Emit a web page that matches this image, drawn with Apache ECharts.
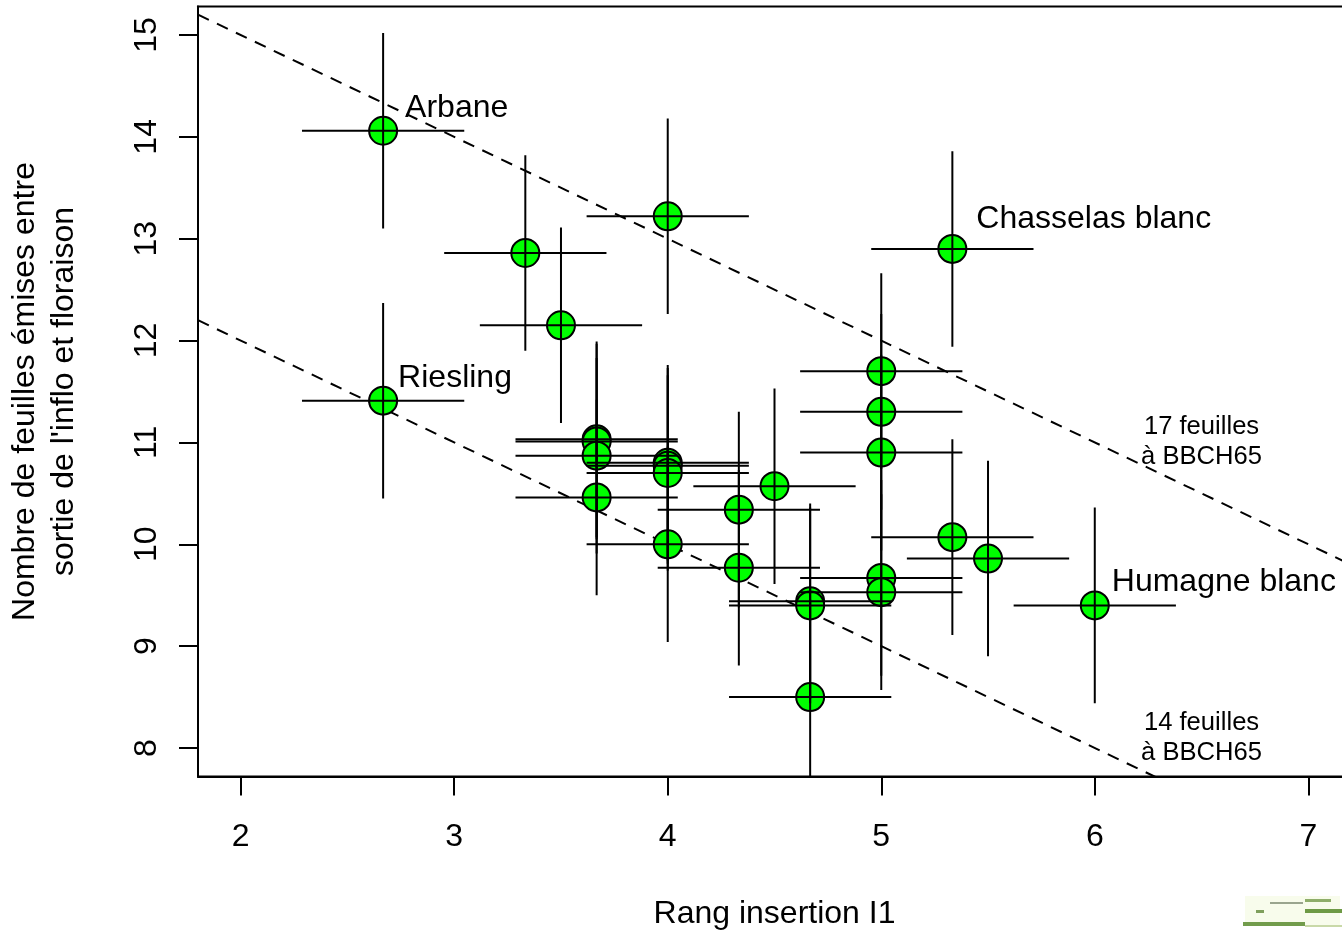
<!DOCTYPE html>
<html>
<head>
<meta charset="utf-8">
<script src="https://cdn.jsdelivr.net/npm/echarts@6/dist/echarts.min.js"></script>
<style>
html,body{margin:0;padding:0;background:#ffffff;}
#chart{width:1342px;height:930px;}
</style>
</head>
<body>
<div id="chart"></div>
<script>
// ---- data ----
const cultivars = ['Arbane','','','Chasselas blanc','','Riesling','','','','','','','','','','','','','','','','','','','','','','Humagne blanc'];
const rankI1    = [2.667,3.333,4.0,5.333,3.5,2.667,5.0,5.0,5.0,3.667,3.667,3.667,3.667,4.0,4.0,4.0,4.0,4.5,4.333,4.333,4.667,4.667,4.667,5.0,5.0,5.333,5.5,6.0];
const leaves    = [14.06,12.86,13.22,12.90,12.15,11.41,11.70,11.30,10.90,11.03,11.01,10.87,10.46,10.80,10.77,10.70,10.00,10.57,10.34,9.77,9.44,9.40,8.50,9.67,9.53,10.07,9.86,9.40];
const rankErr   = [0.38,0.38,0.38,0.38,0.38,0.38,0.38,0.38,0.38,0.38,0.38,0.38,0.38,0.38,0.38,0.38,0.38,0.38,0.38,0.38,0.38,0.38,0.38,0.38,0.38,0.38,0.38,0.38];
const leavesErr = [0.96,0.96,0.96,0.96,0.96,0.96,0.96,0.96,0.96,0.96,0.96,0.96,0.96,0.96,0.96,0.96,0.96,0.96,0.96,0.96,0.96,0.96,0.96,0.96,0.96,0.96,0.96,0.96];
const refTotals = [17, 14];               // reference lines: rank + leaves = total
const refLabelX = [6.5, 6.5];
const refLabelY = [11.0, 8.1];
const refLabels = ['17 feuilles\nà BBCH65', '14 feuilles\nà BBCH65'];
const xTicks = [2, 3, 4, 5, 6, 7];
const yTicks = [8, 9, 10, 11, 12, 13, 14, 15];
const xRange = [1.8, 7.2];
const yRange = [7.72, 15.28];
const xTitle = 'Rang insertion I1';
const yTitle = "Nombre de feuilles émises entre\nsortie de l'inflo et floraison";

// ---- styles ----
const FONT = "'Liberation Sans', Arial, Helvetica, sans-serif";
const labelOffsets = {
  'Arbane': [2, -23],
  'Riesling': [-5, -22],
  'Chasselas blanc': [4, -30],
  'Humagne blanc': [-3, -23]
};

const chart = echarts.init(document.getElementById('chart'), null, {renderer: 'canvas'});

const pointData = rankI1.map((x, i) => {
  const name = cultivars[i];
  const item = {value: [x, leaves[i]], name: name};
  if (name) {
    item.label = {show: true, formatter: '{b}', position: 'right', distance: 5, offset: labelOffsets[name]};
  }
  return item;
});

const errData = rankI1.map((x, i) => [x, leaves[i], rankErr[i], leavesErr[i]]);

const refSeries = refTotals.map(t => ({
  type: 'line',
  data: [[xRange[0], t - xRange[0]], [xRange[1], t - xRange[1]]],
  symbol: 'none',
  clip: true,
  silent: true,
  z: 1,
  lineStyle: {color: '#000000', width: 2, type: [12, 9], opacity: 1},
  animation: false
}));

const option = {
  animation: false,
  backgroundColor: '#ffffff',
  textStyle: {fontFamily: FONT},
  grid: {
    left: 198, top: 6.5, width: 1153, height: 770,
    show: true, borderColor: '#000000', borderWidth: 2, backgroundColor: 'transparent',
    containLabel: false,
    outerBoundsMode: 'none'
  },
  xAxis: {
    type: 'value', min: xRange[0], max: xRange[1],
    name: xTitle, nameLocation: 'middle', nameGap: 122,
    nameTextStyle: {fontFamily: FONT, fontSize: 32, color: '#000000', lineHeight: 32},
    axisLine: {show: true, onZero: false, lineStyle: {color: '#000000', width: 2}},
    axisTick: {show: true, inside: false, length: 19, customValues: xTicks, lineStyle: {color: '#000000', width: 2}},
    axisLabel: {show: true, customValues: xTicks, margin: 45, fontFamily: FONT, fontSize: 32, color: '#000000', lineHeight: 32},
    splitLine: {show: false}
  },
  yAxis: {
    type: 'value', min: yRange[0], max: yRange[1],
    name: yTitle, nameLocation: 'middle', nameGap: 114,
    nameTextStyle: {fontFamily: FONT, fontSize: 32, color: '#000000', lineHeight: 39, align: 'center'},
    axisLine: {show: true, onZero: false, lineStyle: {color: '#000000', width: 2}},
    axisTick: {show: true, inside: false, length: 19, customValues: yTicks, lineStyle: {color: '#000000', width: 2}},
    axisLabel: {show: true, customValues: yTicks, rotate: 90, margin: 35, fontFamily: FONT, fontSize: 32, color: '#000000', lineHeight: 32},
    splitLine: {show: false}
  },
  series: [
    ...refSeries,
    {
      type: 'scatter',
      data: pointData,
      symbol: 'circle',
      symbolSize: 28,
      z: 2,
      itemStyle: {color: '#00ff00', borderColor: '#000000', borderWidth: 2, opacity: 1},
      label: {show: false, fontFamily: FONT, fontSize: 32, color: '#000000', opacity: 1},
      emphasis: {disabled: true}
    },
    {
      type: 'custom',
      data: errData,
      encode: {x: 0, y: 1},
      clip: true,
      z: 3,
      silent: true,
      renderItem: function (params, api) {
        const x = api.value(0), y = api.value(1), ex = api.value(2), ey = api.value(3);
        const h0 = api.coord([x - ex, y]), h1 = api.coord([x + ex, y]);
        const v0 = api.coord([x, y - ey]), v1 = api.coord([x, y + ey]);
        const style = {stroke: '#000000', lineWidth: 2, fill: null};
        return {
          type: 'group',
          children: [
            {type: 'line', shape: {x1: h0[0], y1: h0[1], x2: h1[0], y2: h1[1]}, style: style},
            {type: 'line', shape: {x1: v0[0], y1: v0[1], x2: v1[0], y2: v1[1]}, style: style}
          ]
        };
      }
    },
    {
      type: 'scatter',
      data: refLabelX.map((x, i) => ({value: [x, refLabelY[i]], name: refLabels[i]})),
      symbolSize: 0,
      z: 4,
      silent: true,
      itemStyle: {opacity: 1},
      label: {show: true, position: 'inside', formatter: '{b}', fontFamily: FONT, fontSize: 25.6, lineHeight: 30, color: '#000000', opacity: 1, align: 'center', verticalAlign: 'middle'}
    }
  ],
  graphic: [
    {type: 'rect', left: 1245, top: 896, shape: {width: 95, height: 30}, style: {fill: 'rgba(235,245,200,0.35)'}, silent: true},
    {type: 'rect', left: 1270, top: 902, shape: {width: 33, height: 2}, style: {fill: '#9aa58e'}, silent: true},
    {type: 'rect', left: 1305, top: 899, shape: {width: 26, height: 3}, style: {fill: '#8fae6a'}, silent: true},
    {type: 'rect', left: 1305, top: 909, shape: {width: 37, height: 4}, style: {fill: '#6e9a45'}, silent: true},
    {type: 'rect', left: 1256, top: 910, shape: {width: 8, height: 3}, style: {fill: '#7f9f5c'}, silent: true},
    {type: 'rect', left: 1243, top: 922, shape: {width: 62, height: 4}, style: {fill: '#729c4c'}, silent: true},
    {type: 'rect', left: 1305, top: 925, shape: {width: 37, height: 2}, style: {fill: '#c9d9a8'}, silent: true}
  ]
};

chart.setOption(option);
</script>
</body>
</html>
